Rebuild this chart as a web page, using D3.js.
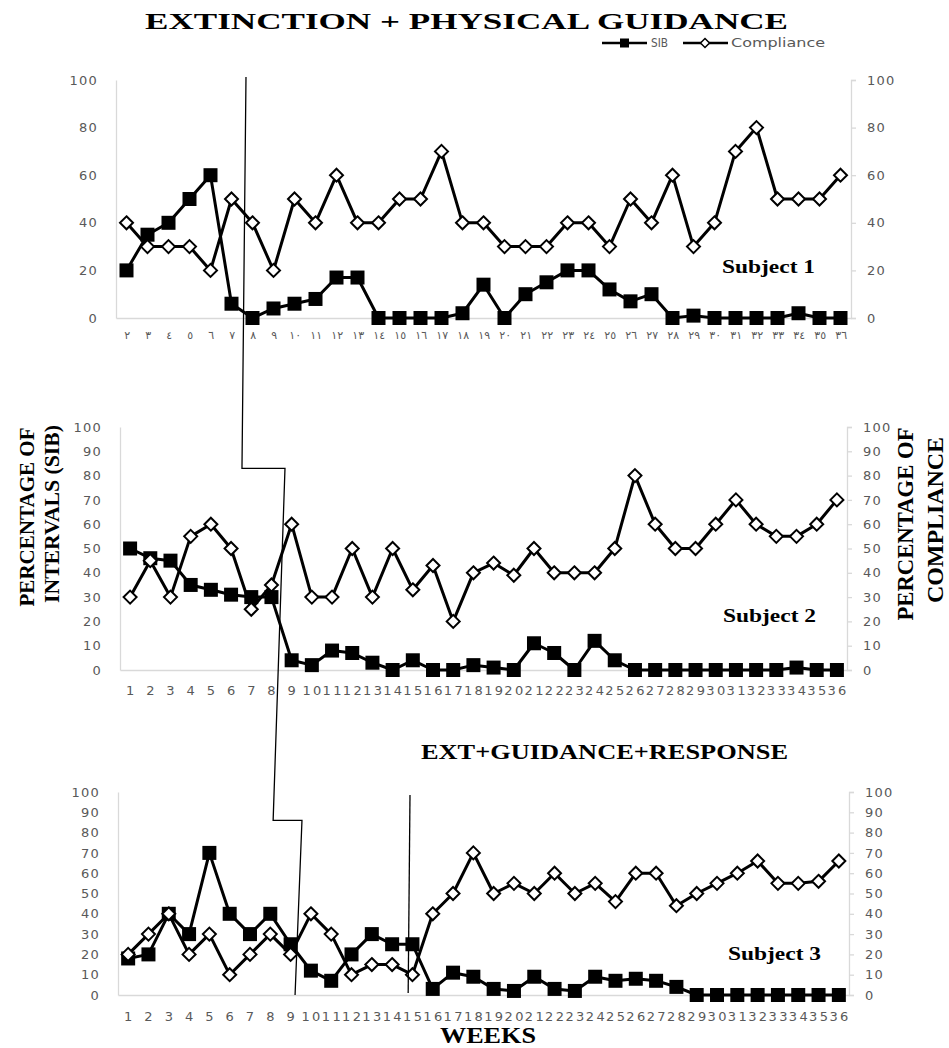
<!DOCTYPE html>
<html>
<head>
<meta charset="utf-8">
<script src="https://cdn.jsdelivr.net/npm/d3@7"></script>
<style>
  body { margin: 0; background: #fff; }
</style>
</head>
<body>
<div id="chart"></div>
<script>
// ---- data ----
const weeksS1 = [2,3,4,5,6,7,8,9,10,11,12,13,14,15,16,17,18,19,20,21,22,23,24,25,26,27,28,29,30,31,32,33,34,35,36];
const sibS1  = [20,35,40,50,60,6,0,4,6,8,17,17,0,0,0,0,2,14,0,10,15,20,20,12,7,10,0,1,0,0,0,0,2,0,0];
const compS1 = [40,30,30,30,20,50,40,20,50,40,60,40,40,50,50,70,40,40,30,30,30,40,40,30,50,40,60,30,40,70,80,50,50,50,60];

const weeksS2 = [1,2,3,4,5,6,7,8,9,10,11,12,13,14,15,16,17,18,19,20,21,22,23,24,25,26,27,28,29,30,31,32,33,34,35,36];
const sibS2  = [50,46,45,35,33,31,30,30,4,2,8,7,3,0,4,0,0,2,1,0,11,7,0,12,4,0,0,0,0,0,0,0,0,1,0,0];
const compS2 = [30,45,30,55,60,50,25,35,60,30,30,50,30,50,33,43,20,40,44,39,50,40,40,40,50,80,60,50,50,60,70,60,55,55,60,70];

const weeksS3 = [1,2,3,4,5,6,7,8,9,10,11,12,13,14,15,16,17,18,19,20,21,22,23,24,25,26,27,28,29,30,31,32,33,34,35,36];
const sibS3  = [18,20,40,30,70,40,30,40,25,12,7,20,30,25,25,3,11,9,3,2,9,3,2,9,7,8,7,4,0,0,0,0,0,0,0,0];
const compS3 = [20,30,40,20,30,10,20,30,20,40,30,10,15,15,10,40,50,70,50,55,50,60,50,55,46,60,60,44,50,55,60,66,55,55,56,66];

const ticksS1  = [0,20,40,60,80,100];
const ticksS23 = [0,10,20,30,40,50,60,70,80,90,100];

// phase change lines: [panel, fractional week index, value on that panel's y scale]
const phaseLineA = [[0,5.69,101.3],[1,5.54,83],[1,7.67,83],[2,7.14,86],[2,8.56,86],[2,8.22,0]];
const phaseLineB = [[2,13.88,98.5],[2,13.79,1]];

const width = 949, height = 1048;
const serif = "'Liberation Serif', 'Times New Roman', serif";
const sans = "'DejaVu Sans', sans-serif";
const gridGray = "#d9d9d9";
const labelGray = "#595959";

const arabicDigits = "٠١٢٣٤٥٦٧٨٩";
const toArabic = n => String(n).replace(/\d/g, c => arabicDigits[+c]);

const svg = d3.select("#chart").append("svg")
    .attr("width", width)
    .attr("height", height);

// panels (layout only)
const panels = [
    { weeks: weeksS1, sib: sibS1, comp: compS1, ticks: ticksS1, xr: [116, 851], yr: [318, 80],
      fmt: toArabic, xFont: 11, xSpace: 1.5, xLabelY: 339, subject: "Subject 1", subX: 722, subY: 273 },
    { weeks: weeksS2, sib: sibS2, comp: compS2, ticks: ticksS23, xr: [120, 847], yr: [670, 427],
      fmt: d => d, xFont: 13, xSpace: 2.4, xLabelY: 695, subject: "Subject 2", subX: 723, subY: 622 },
    { weeks: weeksS3, sib: sibS3, comp: compS3, ticks: ticksS23, xr: [118, 849], yr: [995, 792],
      fmt: d => d, xFont: 13, xSpace: 2.4, xLabelY: 1021, subject: "Subject 3", subX: 728, subY: 960 }
];

const diamond = "M0,-6.5L6.5,0L0,6.5L-6.5,0Z";

panels.forEach(function(p) {
    const x = d3.scaleBand().domain(p.weeks).range(p.xr);
    const y = d3.scaleLinear().domain([0, 100]).range(p.yr);
    p.x = x;
    p.y = y;
    // fractional index -> pixel
    p.pos = d3.scaleLinear().domain([0, p.weeks.length - 1])
        .range([x(p.weeks[0]) + x.bandwidth() / 2, x(p.weeks[p.weeks.length - 1]) + x.bandwidth() / 2]);

    const g = svg.append("g");

    // left axis
    const left = g.append("g")
        .attr("transform", `translate(${p.xr[0]},0)`)
        .call(d3.axisLeft(y).tickValues(p.ticks).tickSize(0).tickPadding(18));
    // right axis
    const right = g.append("g")
        .attr("transform", `translate(${p.xr[1]},0)`)
        .call(d3.axisRight(y).tickValues(p.ticks).tickSize(5).tickPadding(11));
    // bottom axis
    const bottom = g.append("g")
        .attr("transform", `translate(0,${p.yr[0]})`)
        .call(d3.axisBottom(x).tickSize(0).tickSizeOuter(0).tickFormat(p.fmt).tickPadding(0));

    [left, right].forEach(a => {
        a.select(".domain").attr("stroke", gridGray).attr("stroke-width", 1.3);
        a.selectAll(".tick line").attr("stroke", gridGray).attr("stroke-width", 1.3);
        a.selectAll("text")
            .attr("font-family", sans)
            .attr("font-size", 13)
            .attr("letter-spacing", 1.2)
            .attr("fill", labelGray);
    });
    bottom.select(".domain").attr("stroke", gridGray).attr("stroke-width", 1.3);
    bottom.selectAll("text")
        .attr("font-family", sans)
        .attr("font-size", p.xFont)
        .attr("letter-spacing", p.xSpace)
        .attr("fill", labelGray)
        .attr("y", p.xLabelY - p.yr[0])
        .attr("dx", p.xSpace / 2)
        .attr("dy", null);

    const line = d3.line()
        .x((d, i) => x(p.weeks[i]) + x.bandwidth() / 2)
        .y(d => y(d));

    // SIB series
    g.append("path")
        .datum(p.sib)
        .attr("fill", "none")
        .attr("stroke", "#000")
        .attr("stroke-width", 3)
        .attr("stroke-linejoin", "round")
        .attr("d", line);
    g.selectAll(".sib")
        .data(p.sib)
        .enter().append("rect")
        .attr("class", "sib")
        .attr("x", (d, i) => x(p.weeks[i]) + x.bandwidth() / 2 - 7)
        .attr("y", d => y(d) - 7)
        .attr("width", 14)
        .attr("height", 14)
        .attr("fill", "#000");

    // Compliance series (drawn on top)
    g.append("path")
        .datum(p.comp)
        .attr("fill", "none")
        .attr("stroke", "#000")
        .attr("stroke-width", 3)
        .attr("stroke-linejoin", "round")
        .attr("d", line);
    g.selectAll(".comp")
        .data(p.comp)
        .enter().append("path")
        .attr("class", "comp")
        .attr("d", diamond)
        .attr("transform", (d, i) => `translate(${x(p.weeks[i]) + x.bandwidth() / 2},${y(d)})`)
        .attr("fill", "#fff")
        .attr("stroke", "#000")
        .attr("stroke-width", 2);

    // subject label
    g.append("text")
        .attr("x", p.subX)
        .attr("y", p.subY)
        .attr("font-family", serif)
        .attr("font-weight", "bold")
        .attr("font-size", 19)
        .attr("textLength", 93)
        .attr("lengthAdjust", "spacingAndGlyphs")
        .text(p.subject);
});

// phase change lines
const phasePath = d3.line()
    .x(d => panels[d[0]].pos(d[1]))
    .y(d => panels[d[0]].y(d[2]));
[phaseLineA, phaseLineB].forEach(pl => {
    svg.append("path")
        .datum(pl)
        .attr("fill", "none")
        .attr("stroke", "#000")
        .attr("stroke-width", 1.3)
        .attr("d", phasePath);
});

// titles
svg.append("text")
    .attr("x", 145).attr("y", 29)
    .attr("font-family", serif).attr("font-weight", "bold").attr("font-size", 23)
    .attr("textLength", 643).attr("lengthAdjust", "spacingAndGlyphs")
    .text("EXTINCTION + PHYSICAL GUIDANCE");

svg.append("text")
    .attr("x", 421).attr("y", 759)
    .attr("font-family", serif).attr("font-weight", "bold").attr("font-size", 22)
    .attr("textLength", 367).attr("lengthAdjust", "spacingAndGlyphs")
    .text("EXT+GUIDANCE+RESPONSE");

svg.append("text")
    .attr("x", 440).attr("y", 1043)
    .attr("font-family", serif).attr("font-weight", "bold").attr("font-size", 23)
    .attr("textLength", 96).attr("lengthAdjust", "spacingAndGlyphs")
    .text("WEEKS");

// rotated axis titles
const yTitles = [
    { text: "PERCENTAGE OF", cx: 27, cy: 517, len: 179, size: 22 },
    { text: "INTERVALS (SIB)", cx: 52, cy: 514, len: 178, size: 22 },
    { text: "PERCENTAGE OF", cx: 905, cy: 524, len: 193, size: 24 },
    { text: "COMPLIANCE", cx: 935, cy: 520, len: 166, size: 24 }
];
yTitles.forEach(t => {
    svg.append("text")
        .attr("transform", `translate(${t.cx},${t.cy}) rotate(-90)`)
        .attr("text-anchor", "middle")
        .attr("dy", "0.33em")
        .attr("font-family", serif).attr("font-weight", "bold").attr("font-size", t.size)
        .attr("textLength", t.len).attr("lengthAdjust", "spacingAndGlyphs")
        .text(t.text);
});

// legend
const legend = svg.append("g").attr("transform", "translate(0,43)");
legend.append("line").attr("x1", 602).attr("x2", 647).attr("stroke", "#000").attr("stroke-width", 2.5);
legend.append("rect").attr("x", 620).attr("y", -4.5).attr("width", 9).attr("height", 9).attr("fill", "#000");
legend.append("text").attr("x", 651).attr("dy", "0.35em")
    .attr("font-family", sans).attr("font-size", 12).attr("fill", labelGray)
    .attr("textLength", 17).attr("lengthAdjust", "spacingAndGlyphs").text("SIB");
legend.append("line").attr("x1", 683).attr("x2", 728).attr("stroke", "#000").attr("stroke-width", 2.5);
legend.append("path").attr("d", "M0,-4.5L4.5,0L0,4.5L-4.5,0Z").attr("transform", "translate(705,0)")
    .attr("fill", "#fff").attr("stroke", "#000").attr("stroke-width", 1.5);
legend.append("text").attr("x", 731).attr("dy", "0.35em")
    .attr("font-family", sans).attr("font-size", 12).attr("fill", labelGray)
    .attr("textLength", 94).attr("lengthAdjust", "spacingAndGlyphs").text("Compliance");
</script>
</body>
</html>
